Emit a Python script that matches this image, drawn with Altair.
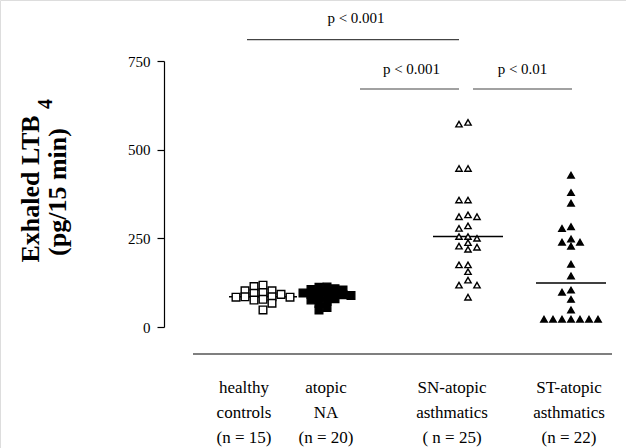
import altair as alt
import pandas as pd

# ---------------- data ----------------
groups = ["healthy controls", "atopic NA", "SN-atopic asthmatics", "ST-atopic asthmatics"]
group_labels = [
    "healthy\ncontrols\n(n = 15)",
    "atopic\nNA\n(n = 20)",
    "SN-atopic\nasthmatics\n( n = 25)",
    "ST-atopic\nasthmatics\n(n = 22)",
]
healthy_controls = [118, 114, 102, 102, 97, 95, 92, 85, 85, 84, 84, 78, 76, 67, 48]
atopic_na = [113, 112, 108, 106, 104, 100, 98, 96, 94, 92, 91, 89, 86, 84, 80, 76, 72, 66, 55, 48]
sn_atopic = [577, 572, 447, 447, 358, 358, 316, 311, 311, 285, 278, 255, 255, 250, 238,
             228, 225, 219, 175, 175, 156, 132, 118, 118, 84]
st_atopic = [428, 379, 349, 283, 278, 248, 239, 239, 228, 177, 144, 104, 98, 78, 48,
             22, 22, 22, 22, 22, 22, 22]
y_ticks = [0, 250, 500, 750]
sig_labels = ["p < 0.001", "p < 0.001", "p < 0.01"]
y_title_1 = "Exhaled LTB"
y_title_sub = "4"
y_title_2 = "(pg/15 min)"

series = [healthy_controls, atopic_na, sn_atopic, st_atopic]

# ---------------- layout ----------------
W, H = 626, 448
Y_RANGE = [327, 61]              # pixel rows of 0 and 750
PX_PER_UNIT = (Y_RANGE[0] - Y_RANGE[1]) / 750.0
group_center = [263, 327, 468, 571]
label_center = [244, 326, 452, 569]
median_half = [34, 27, 35, 35]
steps = [9, 8, 9, 9]          # horizontal spacing of swarm columns (px)
min_gaps = [6, 4.5, 6, 6]     # vertical gap needed inside one column (px)
shapes = ["square", "square", "triangle-up", "triangle-up"]
filled = [False, True, False, True]
sizes = [58, 58, 40, 42]
SERIF = "Liberation Serif"


def swarm(values, center, step, gap):
    """Simple column dot-plot layout: highest value first, nearest free column."""
    cands = [0]
    for j in range(1, 12):
        cands += [-j, j]
    placed = []
    xs = [0.0] * len(values)
    for i in sorted(range(len(values)), key=lambda k: -values[k]):
        yp = values[i] * PX_PER_UNIT
        for c in cands:
            if all(not (pc == c and abs(py - yp) < gap) for pc, py in placed):
                break
        placed.append((c, yp))
        xs[i] = center + c * step
    return xs


rows = []
for g, vals in enumerate(series):
    xs = swarm(vals, group_center[g], steps[g], min_gaps[g])
    for v, x in zip(vals, xs):
        rows.append({"group": groups[g], "gi": g, "value": v, "x": x})
df = pd.DataFrame(rows)

med = df.groupby("gi")["value"].median().reset_index()
med["x1"] = [group_center[g] - median_half[g] for g in med["gi"]]
med["x2"] = [group_center[g] + median_half[g] for g in med["gi"]]

xs_scale = alt.Scale(domain=[0, W], range=[0, W], nice=False, zero=False)
ys_scale = alt.Scale(domain=[0, 750], range=Y_RANGE, nice=False, zero=False)
Y_AXIS = alt.Axis(values=y_ticks, offset=-164, grid=False, title=None,
                  domainColor="black", tickColor="black", tickSize=7,
                  domainWidth=1.2, tickWidth=1.2,
                  labelFont=SERIF, labelFontSize=15, labelColor="black",
                  labelPadding=7)


def X(field):
    return alt.X(field, scale=xs_scale, axis=None)


def Y(field):
    return alt.Y(field, scale=ys_scale, axis=Y_AXIS)


layers = []

# median lines (under the markers)
layers.append(
    alt.Chart(med).mark_rule(color="black", strokeWidth=1.5).encode(
        x=X("x1:Q"), x2="x2:Q", y=Y("value:Q"),
    )
)

# points, one layer per group (marker style differs)
for g in range(4):
    sub = df[df["gi"] == g]
    m = alt.Chart(sub).mark_point(
        shape=shapes[g], filled=filled[g], size=sizes[g],
        color="black", stroke="black", strokeWidth=1.4, opacity=1,
        fill="black" if filled[g] else "white",
    ).encode(x=X("x:Q"), y=Y("value:Q"))
    layers.append(m)

# x-axis baseline
layers.append(
    alt.Chart(pd.DataFrame({"a": [0]})).mark_rule(color="black", strokeWidth=1.2).encode(
        x=alt.value(193), x2=alt.value(612), y=alt.value(354)
    )
)

# category labels
lab = pd.DataFrame({"label": group_labels, "x": label_center})
layers.append(
    alt.Chart(lab).mark_text(font=SERIF, fontSize=17, color="black", align="center",
                             baseline="alphabetic", lineBreak="\n", lineHeight=25).encode(
        x=X("x:Q"), y=alt.value(393), text="label:N"
    )
)

# significance bars
sig = pd.DataFrame({
    "label": sig_labels,
    "x1": [247, 360, 473], "x2": [459, 459, 572],
    "yb": [810, 671, 671], "yt": [870, 727, 727],
})
sig["xm"] = (sig["x1"] + sig["x2"]) / 2 + pd.Series([3, 2, 0])
layers.append(
    alt.Chart(sig).mark_rule(color="#444444", strokeWidth=1.2).encode(
        x=X("x1:Q"), x2="x2:Q", y=Y("yb:Q"),
    )
)
layers.append(
    alt.Chart(sig).mark_text(font=SERIF, fontSize=15, color="black", baseline="middle").encode(
        x=X("xm:Q"), y=Y("yt:Q"), text="label:N",
    )
)

# y-axis title (rotated, bold, with subscript 4)
layers.append(
    alt.Chart(pd.DataFrame({"t": [y_title_1]})).mark_text(
        font=SERIF, fontSize=26, fontWeight="bold", angle=270, align="center",
        baseline="middle", color="black").encode(
        x=alt.value(31), y=alt.value(189), text="t:N")
)
layers.append(
    alt.Chart(pd.DataFrame({"t": [y_title_sub]})).mark_text(
        font=SERIF, fontSize=20, fontWeight="bold", angle=270, align="center",
        baseline="middle", color="black").encode(
        x=alt.value(46), y=alt.value(104), text="t:N")
)
layers.append(
    alt.Chart(pd.DataFrame({"t": [y_title_2]})).mark_text(
        font=SERIF, fontSize=26, fontWeight="bold", angle=270, align="center",
        baseline="middle", color="black").encode(
        x=alt.value(58), y=alt.value(192), text="t:N")
)

chart = alt.layer(*layers).properties(
    width=W, height=H,
    autosize=alt.AutoSizeParams(type="none"),
    padding=0,
).configure_view(stroke=None).configure(background="white")

chart.save("out.html", embed_options={"renderer": "svg", "actions": False})
